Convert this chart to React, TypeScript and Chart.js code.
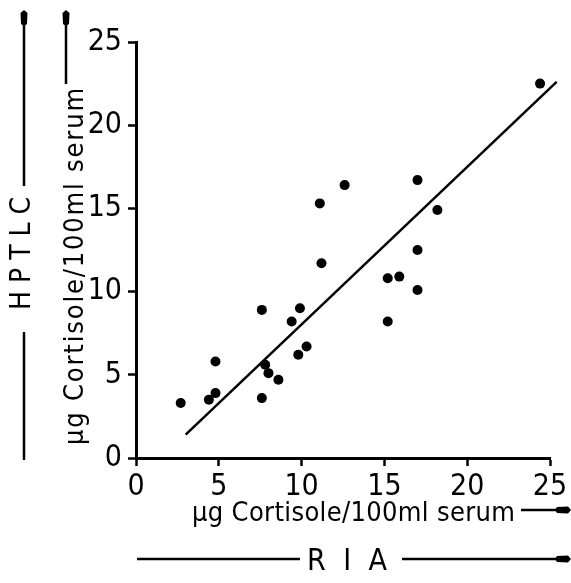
import React, { useEffect, useRef } from 'react';
import { Chart, registerables } from 'chart.js';

Chart.register(...registerables);

// RIA (x) vs HPTLC (y), µg cortisole / 100 ml serum
const riaValues = [2.7, 4.4, 4.8, 4.8, 7.6, 7.6, 7.8, 8.0, 8.6, 9.4, 9.9, 9.8, 10.3, 11.1, 11.2, 12.6, 15.2, 15.2, 15.9, 17.0, 17.0, 17.0, 18.2, 24.4];
const hptlcValues = [3.3, 3.5, 3.9, 5.8, 3.6, 8.9, 5.6, 5.1, 4.7, 8.2, 9.0, 6.2, 6.7, 15.3, 11.7, 16.4, 10.8, 8.2, 10.9, 16.7, 12.5, 10.1, 14.9, 22.5];
const fitLineX = [3.0, 25.4];
const fitLineY = [1.4, 22.6];
const tickValues = [0, 5, 10, 15, 20, 25];
const unitTitle = 'µg Cortisole/100ml serum';
const xMethod = 'R I A';
const yMethod = 'H P T L C';

const FONT = "'DejaVu Sans Condensed', 'DejaVu Sans', sans-serif";

function spacedText(ctx: CanvasRenderingContext2D, text: string, x: number, y: number, target: number) {
  (ctx as any).letterSpacing = '0px';
  const w = ctx.measureText(text).width;
  const ls = Math.max(0, (target - w) / Math.max(1, text.length - 1));
  (ctx as any).letterSpacing = ls.toFixed(2) + 'px';
  ctx.fillText(text, x, y);
  (ctx as any).letterSpacing = '0px';
}

function arrow(ctx: CanvasRenderingContext2D, x1: number, y1: number, x2: number, y2: number) {
  const ang = Math.atan2(y2 - y1, x2 - x1);
  const len = Math.hypot(x2 - x1, y2 - y1);
  ctx.save();
  ctx.translate(x1, y1);
  ctx.rotate(ang);
  ctx.beginPath();
  ctx.moveTo(0, 0);
  ctx.lineTo(len - 12, 0);
  ctx.stroke();
  ctx.beginPath();
  ctx.moveTo(len, 0);
  ctx.lineTo(len - 3, -3.5);
  ctx.lineTo(len - 14, -3);
  ctx.lineTo(len - 16, 0);
  ctx.lineTo(len - 14, 3);
  ctx.lineTo(len - 3, 3.5);
  ctx.closePath();
  ctx.fill();
  ctx.restore();
}

function line(ctx: CanvasRenderingContext2D, x1: number, y1: number, x2: number, y2: number) {
  ctx.beginPath();
  ctx.moveTo(x1, y1);
  ctx.lineTo(x2, y2);
  ctx.stroke();
}

const labelsPlugin = {
  id: 'methodLabels',
  afterDraw(chart: any) {
    const ctx: CanvasRenderingContext2D = chart.ctx;
    ctx.save();
    ctx.fillStyle = '#000';
    ctx.strokeStyle = '#000';
    ctx.lineWidth = 2.5;
    ctx.textAlign = 'left';
    ctx.textBaseline = 'alphabetic';

    // bottom: unit title + arrow
    ctx.font = `27px ${FONT}`;
    spacedText(ctx, unitTitle, 192, 521, 323);
    arrow(ctx, 521, 510, 571, 510);

    // bottom: R I A
    ctx.font = `30px ${FONT}`;
    spacedText(ctx, xMethod, 307, 570, 80);
    line(ctx, 137, 559, 300, 559);
    arrow(ctx, 402, 559, 571, 559);

    // left: unit title rotated + arrow
    ctx.save();
    ctx.translate(83, 445);
    ctx.rotate(-Math.PI / 2);
    ctx.font = `27px ${FONT}`;
    spacedText(ctx, unitTitle, 0, 0, 357);
    ctx.restore();
    arrow(ctx, 66, 84, 66, 10);

    // left: H P T L C rotated + lines
    ctx.save();
    ctx.translate(23, 310);
    ctx.rotate(-Math.PI / 2);
    ctx.font = `28px ${FONT}`;
    ctx.textBaseline = 'middle';
    spacedText(ctx, yMethod, 0, 0, 108);
    ctx.restore();
    line(ctx, 24, 460, 24, 332);
    arrow(ctx, 24, 186, 24, 10);

    ctx.restore();
  },
};

export default function App() {
  const ref = useRef<HTMLCanvasElement>(null);
  useEffect(() => {
    if (!ref.current) return;
    const points = riaValues.map((x, i) => ({ x, y: hptlcValues[i] }));
    const fit = fitLineX.map((x, i) => ({ x, y: fitLineY[i] }));
    const axisCommon = (afterFit: (s: any) => void) => ({
      type: 'linear' as const,
      min: 0,
      max: 25,
      afterFit,
      afterBuildTicks: (s: any) => {
        s.ticks = tickValues.map((v) => ({ value: v }));
      },
      ticks: {
        color: '#000',
        font: { family: FONT, size: 30 },
      },
      grid: {
        drawOnChartArea: false,
        drawTicks: true,
        tickLength: 8,
        tickWidth: 2.5,
        tickColor: '#000',
      },
      border: { display: true, color: '#000', width: 3 },
    });
    const xAxis: any = axisCommon((s: any) => { s.height = 125; });
    xAxis.ticks.padding = 3;
    const yAxis: any = axisCommon((s: any) => { s.width = 136; });
    yAxis.ticks.padding = 6;
    const chart = new Chart(ref.current, {
      type: 'scatter',
      data: {
        datasets: [
          {
            label: 'HPTLC vs RIA',
            data: points,
            backgroundColor: '#000',
            borderColor: '#000',
            pointRadius: 5,
            pointHoverRadius: 5,
            pointBorderWidth: 0,
          },
          {
            type: 'line',
            label: 'Regression',
            data: fit,
            borderColor: '#000',
            borderWidth: 2.5,
            pointRadius: 0,
            fill: false,
            clip: false as any,
          } as any,
        ],
      },
      options: {
        animation: false,
        responsive: false,
        maintainAspectRatio: false,
        layout: { padding: { left: 0, right: 21, top: 42, bottom: 0 } },
        plugins: { legend: { display: false }, tooltip: { enabled: false }, title: { display: false } },
        scales: { x: xAxis, y: yAxis },
      },
      plugins: [labelsPlugin],
    });
    return () => chart.destroy();
  }, []);
  return (
    <div style={{ position: 'fixed', left: 0, top: 0, width: 571, height: 583, background: '#fff' }}>
      <canvas ref={ref} width={571} height={583} style={{ width: 571, height: 583 }} />
    </div>
  );
}
